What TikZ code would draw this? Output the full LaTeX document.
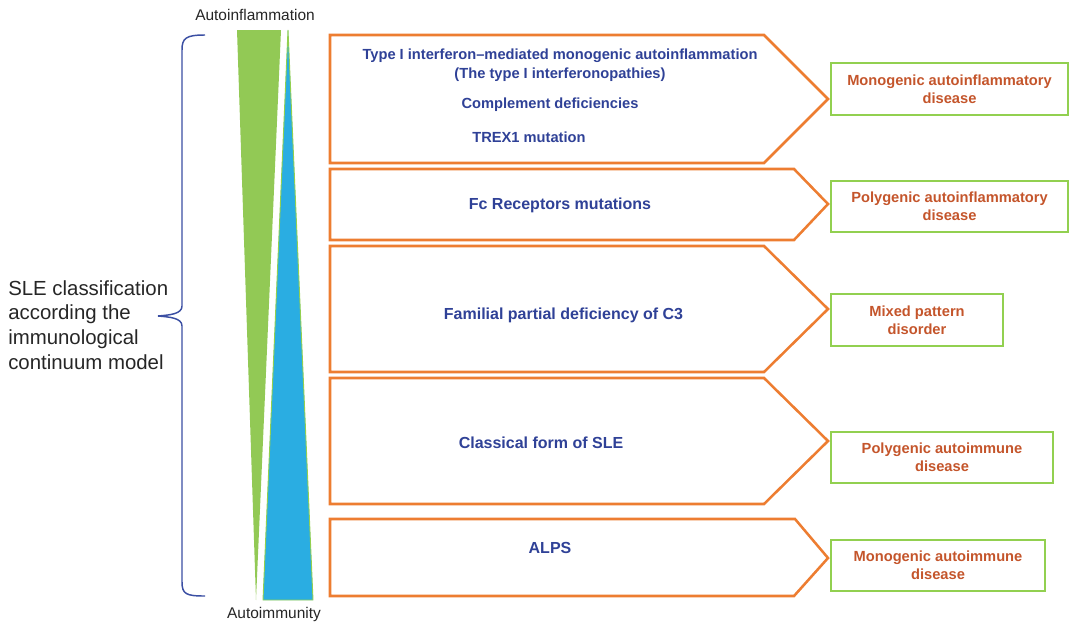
\documentclass[tikz,border=0pt]{standalone}
\usepackage{fontspec}
\setmainfont{Liberation Sans}
\definecolor{orangeB}{HTML}{ED7D31}
\definecolor{greenB}{HTML}{92D050}
\definecolor{greenF}{HTML}{92C955}
\definecolor{blueF}{HTML}{2AADE2}
\definecolor{blueT}{HTML}{2F4197}
\definecolor{orangeT}{HTML}{C4552B}
\definecolor{braceC}{HTML}{3B4FA3}
\begin{document}
\begin{tikzpicture}[x=0.75pt,y=-0.75pt,
  penta/.style={draw=orangeB,line width=1.9pt,line join=miter,fill=white},
  bluetxt/.style={text=blueT,font=\bfseries\fontsize{12}{14.5}\selectfont,align=center},
  bluetxtS/.style={text=blueT,font=\bfseries\fontsize{11}{14}\selectfont,align=center},
  dbox/.style={draw=greenB,line width=1.1pt,text=orangeT,font=\bfseries\fontsize{11}{13.5}\selectfont,align=center,inner sep=0pt},
  axislabel/.style={font=\fontsize{11.6}{14}\selectfont,text=black!85}
]
\useasboundingbox (0,0) rectangle (1069,625);

% triangles
\fill[greenF] (237,30) -- (281,30) -- (256,600) -- cycle;
\filldraw[fill=blueF,draw=greenB,line width=0.7pt] (288,30) -- (313,600) -- (263,600) -- cycle;

\node[axislabel] (ainf) at (255,15) {Autoinflammation};
\node[axislabel] (aimm) at (274,614) {Autoimmunity};

% brace
\draw[braceC,line width=1.1pt] (205,35) .. controls (186,35) and (182,38) .. (182,50)
  -- (182,306) .. controls (182,314) and (170,315) .. (158,316)
  .. controls (170,317) and (182,318) .. (182,326)
  -- (182,582) .. controls (182,594) and (186,596) .. (205,596);

\node[anchor=west,align=left,font=\fontsize{15.3}{18.5}\selectfont,text=black!85,inner sep=0pt] (sle) at (8,325)
 {SLE classification\\according the\\immunological\\continuum model};

% pentagons
\draw[penta] (330,35) -- (764,35) -- (828,99) -- (764,163) -- (330,163) -- cycle;
\draw[penta] (330,169) -- (794,169) -- (828,204) -- (794,240) -- (330,240) -- cycle;
\draw[penta] (330,246) -- (764,246) -- (828,309) -- (764,372) -- (330,372) -- cycle;
\draw[penta] (330,378) -- (764,378) -- (828,441) -- (764,504) -- (330,504) -- cycle;
\draw[penta] (330,519) -- (795,519) -- (828,558) -- (794,596) -- (330,596) -- cycle;

% pentagon texts
\node[bluetxtS] (t1) at (560,65) {Type I interferon–mediated monogenic autoinflammation\\(The type I interferonopathies)};
\node[bluetxtS] (t2) at (550,105) {Complement deficiencies};
\node[bluetxtS] (t3) at (529,137) {TREX1 mutation};
\node[bluetxt] (t4) at (560,205) {Fc Receptors mutations};
\node[bluetxt] (t5) at (563.5,315) {Familial partial deficiency of C3};
\node[bluetxt] (t6) at (541,443) {Classical form of SLE};
\node[bluetxt] (t7) at (550,548) {ALPS};

% disease boxes
\node[dbox,minimum width=237pt*0.75,minimum height=52pt*0.75] (d1) at (949.5,89) {Monogenic autoinflammatory\\disease};
\node[dbox,minimum width=237pt*0.75,minimum height=51pt*0.75] (d2) at (949.5,206.5) {Polygenic autoinflammatory\\disease};
\node[dbox,minimum width=172pt*0.75,minimum height=52pt*0.75] (d3) at (917,320) {Mixed pattern\\disorder};
\node[dbox,minimum width=222pt*0.75,minimum height=51pt*0.75] (d4) at (942,457.5) {Polygenic autoimmune\\disease};
\node[dbox,minimum width=214pt*0.75,minimum height=51pt*0.75] (d5) at (938,565.5) {Monogenic autoimmune\\disease};
\end{tikzpicture}
\end{document}
